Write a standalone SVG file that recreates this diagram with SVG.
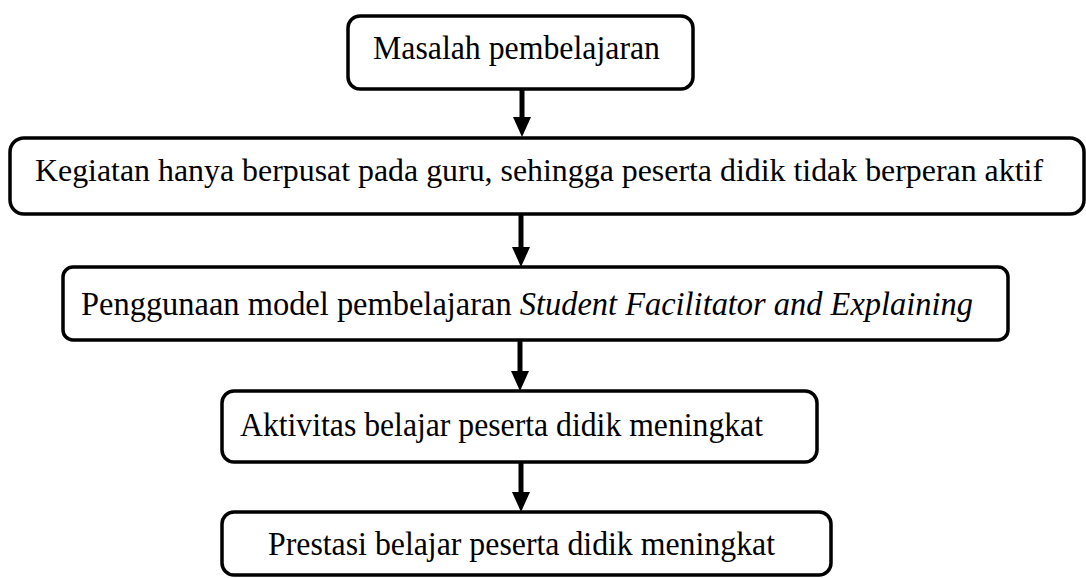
<svg xmlns="http://www.w3.org/2000/svg" width="1086" height="578" viewBox="0 0 1086 578">
<style>
.box{fill:#fff;stroke:#000;stroke-width:3.5}
.t{font-family:"Liberation Serif","Times New Roman",serif;font-size:34px;fill:#000}
.t2{font-size:31px}
.c{stroke:#000;stroke-width:5;fill:none}
</style>
<defs>
<marker id="ah" markerUnits="userSpaceOnUse" markerWidth="20" markerHeight="20" viewBox="0 -9 20 18" refX="0" refY="0" orient="auto">
<polygon points="0,-9 20,0 0,9" fill="#000"/>
</marker>
</defs>
<rect width="1086" height="578" fill="#fff"/>
<g id="connectors">
<path class="c" d="M522,89 V117" marker-end="url(#ah)"/>
<path class="c" d="M521,214 V247" marker-end="url(#ah)"/>
<path class="c" d="M520,340 V371" marker-end="url(#ah)"/>
<path class="c" d="M521,462 V492" marker-end="url(#ah)"/>
</g>
<g id="n1">
<rect class="box" x="348" y="16" width="345" height="73" rx="12"/>
<text class="t" x="373" y="59" textLength="287" lengthAdjust="spacingAndGlyphs">Masalah pembelajaran</text>
</g>
<g id="n2">
<rect class="box" x="10" y="138" width="1074" height="76" rx="14"/>
<text class="t t2" x="35" y="181" textLength="1008" lengthAdjust="spacingAndGlyphs">Kegiatan hanya berpusat pada guru, sehingga peserta didik tidak berperan aktif</text>
</g>
<g id="n3">
<rect class="box" x="63" y="267" width="945" height="73" rx="10"/>
<text class="t" x="81" y="315" textLength="892" lengthAdjust="spacingAndGlyphs">Penggunaan model pembelajaran <tspan font-style="italic">Student Facilitator and Explaining</tspan></text>
</g>
<g id="n4">
<rect class="box" x="222" y="391" width="595" height="71" rx="12"/>
<text class="t" x="240" y="436" textLength="523" lengthAdjust="spacingAndGlyphs">Aktivitas belajar peserta didik meningkat</text>
</g>
<g id="n5">
<rect class="box" x="222" y="512" width="609" height="63" rx="12"/>
<text class="t" x="268" y="555" textLength="507" lengthAdjust="spacingAndGlyphs">Prestasi belajar peserta didik meningkat</text>
</g>
</svg>
